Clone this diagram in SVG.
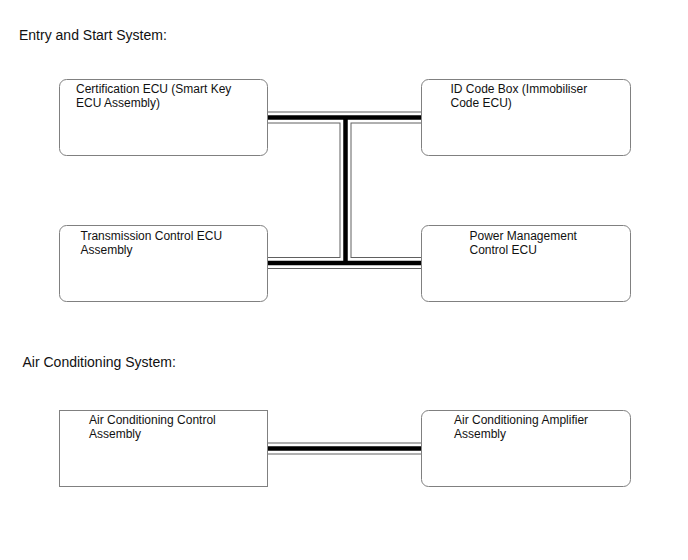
<svg xmlns="http://www.w3.org/2000/svg" width="688" height="560" viewBox="0 0 688 560">
<style>
.t{font-family:"Liberation Sans",Arial,sans-serif;font-size:12px;fill:#111}
.h{font-family:"Liberation Sans",Arial,sans-serif;font-size:14px;fill:#111}
.box{fill:#fff;stroke:#808080;stroke-width:1}
.b1{fill:none;stroke:#606060;stroke-width:12}
.b2{fill:none;stroke:#fff;stroke-width:10}
.b3{fill:none;stroke:#000;stroke-width:4.5}
</style>
<rect width="688" height="560" fill="#fff"/>
<text class="h" x="19" y="40">Entry and Start System:</text>
<text class="h" x="22.5" y="366.5">Air Conditioning System:</text>
<g id="connectors">
<path class="b1" d="M268 117.5H421M268 263H421M345.5 117.5V263M268 448.5H421"/>
<path class="b2" d="M268 117.5H421M268 263H421M345.5 117.5V263M268 448.5H421"/>
<path class="b3" d="M268 117.5H421M268 263H421M345.5 117.5V263M268 448.5H421"/>
</g>
<g id="cert">
<rect class="box" x="59.5" y="79.5" width="208" height="76" rx="7"/>
<text class="t" x="76" y="93">Certification ECU (Smart Key</text>
<text class="t" x="76" y="106.5">ECU Assembly)</text>
</g>
<g id="idcode">
<rect class="box" x="421.5" y="79.5" width="209" height="76" rx="7"/>
<text class="t" x="450.5" y="93">ID Code Box (Immobiliser</text>
<text class="t" x="450.5" y="106.5">Code ECU)</text>
</g>
<g id="trans">
<rect class="box" x="59.5" y="225.5" width="208" height="76" rx="7"/>
<text class="t" x="80.5" y="240">Transmission Control ECU</text>
<text class="t" x="80.5" y="253.5">Assembly</text>
</g>
<g id="power">
<rect class="box" x="421.5" y="225.5" width="209" height="76" rx="7"/>
<text class="t" x="469.5" y="240">Power Management</text>
<text class="t" x="469.5" y="253.5">Control ECU</text>
</g>
<g id="acctrl">
<rect class="box" x="59.5" y="410.5" width="208" height="76"/>
<text class="t" x="89" y="424">Air Conditioning Control</text>
<text class="t" x="89" y="437.5">Assembly</text>
</g>
<g id="acamp">
<rect class="box" x="421.5" y="410.5" width="209" height="76" rx="7"/>
<text class="t" x="454" y="424">Air Conditioning Amplifier</text>
<text class="t" x="454" y="437.5">Assembly</text>
</g>
</svg>
